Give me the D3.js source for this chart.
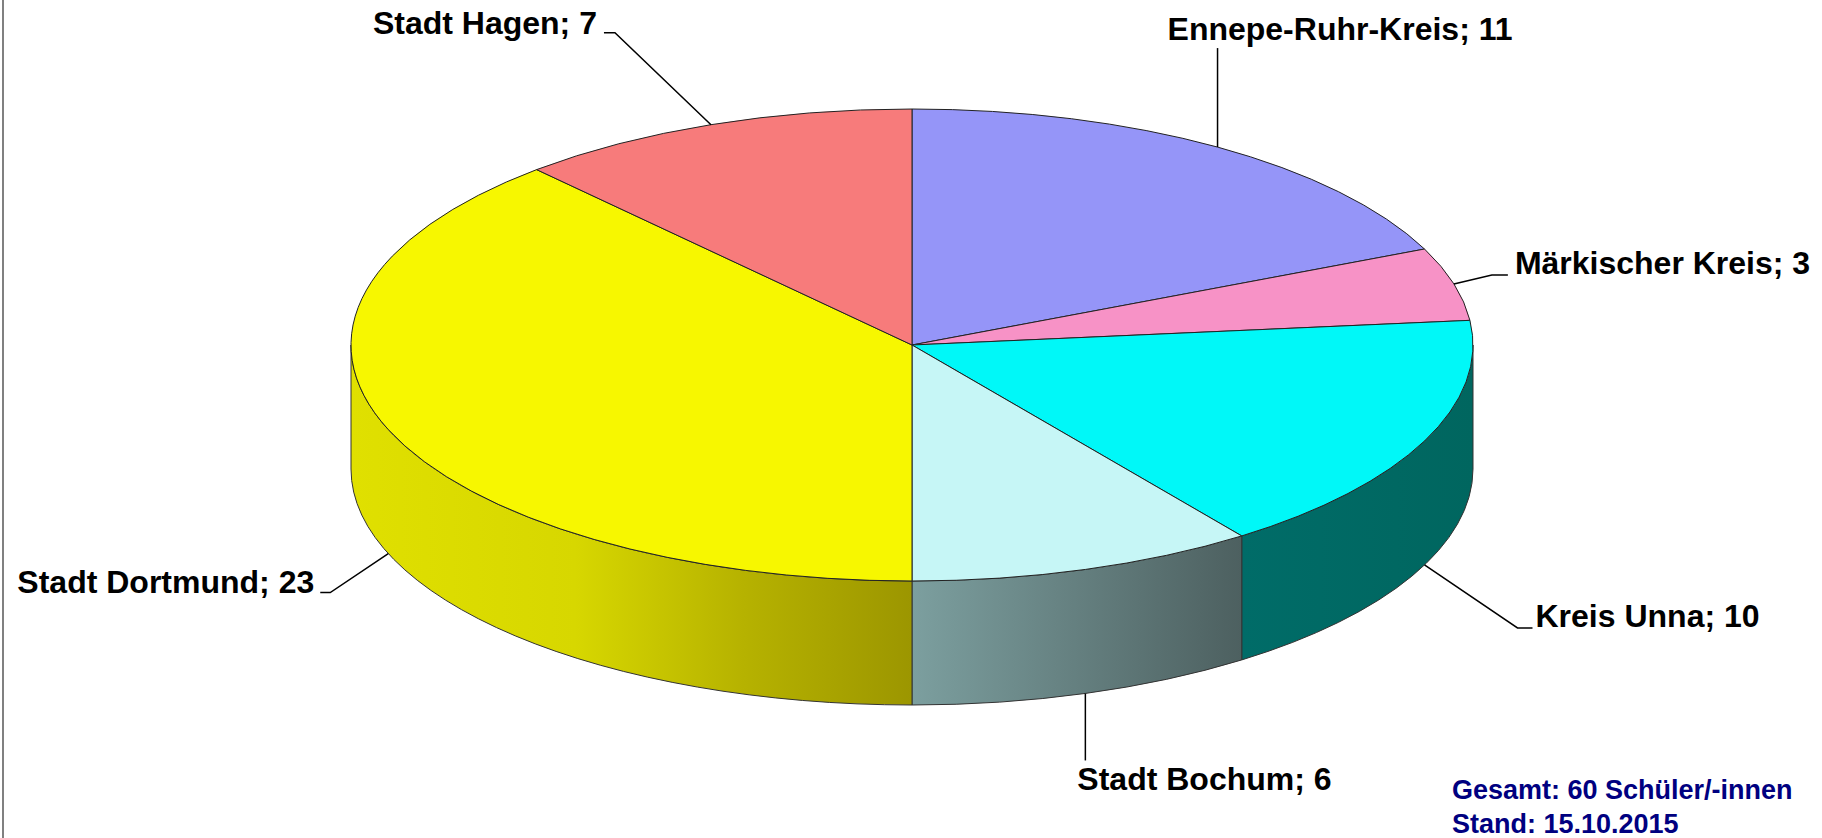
<!DOCTYPE html>
<html>
<head>
<meta charset="utf-8">
<script src="https://cdn.jsdelivr.net/npm/d3@7"></script>
<style>
  html, body { margin: 0; padding: 0; background: #fff; }
  svg { display: block; }
  text { font-family: "Liberation Sans", Arial, Helvetica, sans-serif; font-weight: bold; }
</style>
</head>
<body>
<svg id="chart" width="1822" height="838"></svg>
<script>
// ---- data ----
const categories = ["Ennepe-Ruhr-Kreis", "Märkischer Kreis", "Kreis Unna", "Stadt Bochum", "Stadt Dortmund", "Stadt Hagen"];
const values = [11, 3, 10, 6, 23, 7];
const topColors = ["#9595F8", "#F792C6", "#00F8F8", "#C6F6F6", "#F7F700", "#F77B7B"];
const sideColorsStart = ["#7070C0", "#C0709A", "#006C68", "#7C9F9F", "#E0E000", "#C06060"];
const sideColorsEnd   = ["#5858A0", "#A05880", "#00665F", "#4D6060", "#9C9600", "#A05050"];
const footnotes = ["Gesamt: 60 Schüler/-innen", "Stand: 15.10.2015"];

// ---- layout ----
const W = 1822, H = 838;
const cx = 912, cy = 345, rx = 561, ry = 236, depth = 124;
const labelLayout = [
  {rim: 0, ex: 0,   ey: -99, tx: 0,   lx: -50, ly: -8,  anchor: "start"},
  {rim: 0, ex: 38,  ey: -9,  tx: 16,  lx: 7,   ly: -1,  anchor: "start"},
  {rim: 1, ex: 93,  ey: 63,  tx: 15,  lx: 3,   ly: -1,  anchor: "start"},
  {rim: 1, ex: 0,   ey: 67,  tx: 0,   lx: -8,  ly: 30,  anchor: "start"},
  {rim: 1, ex: -58, ey: 39,  tx: -10, lx: -6,  ly: 0,   anchor: "end"},
  {rim: 0, ex: -96, ey: -92, tx: -11, lx: -7,  ly: 1,   anchor: "end"}
];

const svg = d3.select("#chart");
svg.append("rect").attr("x", 0).attr("y", 0).attr("width", W).attr("height", H).attr("fill", "#fff");
svg.append("line").attr("x1", 3).attr("x2", 3).attr("y1", 0).attr("y2", H)
  .attr("stroke", "#808080").attr("stroke-width", 2);

const data = categories.map((c, i) => ({name: c, value: values[i], i}));
const pie = d3.pie().sort(null).value(d => d.value).startAngle(0).endAngle(2 * Math.PI);
const arcs = pie(data);

const px = a => cx + rx * Math.sin(a);
const py = a => cy - ry * Math.cos(a);

const defs = svg.append("defs");

// sides
const sideG = svg.append("g");
arcs.forEach(d => {
  const b0 = Math.max(d.startAngle, Math.PI / 2);
  const b1 = Math.min(d.endAngle, 3 * Math.PI / 2);
  if (b1 <= b0) return;
  const i = d.data.i;
  const x0 = px(b0), x1 = px(b1);
  const gid = "side" + i;
  const g = defs.append("linearGradient").attr("id", gid)
    .attr("gradientUnits", "userSpaceOnUse")
    .attr("x1", Math.min(x0, x1)).attr("x2", Math.max(x0, x1)).attr("y1", 0).attr("y2", 0);
  if (i === 4) {
    g.append("stop").attr("offset", "0%").attr("stop-color", "#E0E000");
    g.append("stop").attr("offset", "40%").attr("stop-color", "#D7D700");
    g.append("stop").attr("offset", "70%").attr("stop-color", "#B6B200");
    g.append("stop").attr("offset", "100%").attr("stop-color", sideColorsEnd[i]);
  } else {
    g.append("stop").attr("offset", "0%").attr("stop-color", sideColorsStart[i]);
    g.append("stop").attr("offset", "100%").attr("stop-color", sideColorsEnd[i]);
  }
  const path = `M${px(b0)},${py(b0)} A${rx},${ry} 0 0 1 ${px(b1)},${py(b1)} L${px(b1)},${py(b1) + depth} A${rx},${ry} 0 0 0 ${px(b0)},${py(b0) + depth} Z`;
  sideG.append("path").attr("d", path).attr("fill", `url(#${gid})`)
    .attr("stroke", "#333").attr("stroke-width", 1).attr("stroke-linejoin", "round");
});

// tops
const topG = svg.append("g");
arcs.forEach(d => {
  const a0 = d.startAngle, a1 = d.endAngle;
  const large = (a1 - a0) > Math.PI ? 1 : 0;
  const path = `M${cx},${cy} L${px(a0)},${py(a0)} A${rx},${ry} 0 ${large} 1 ${px(a1)},${py(a1)} Z`;
  topG.append("path").attr("d", path).attr("fill", topColors[d.data.i])
    .attr("stroke", "#222").attr("stroke-width", 1).attr("stroke-linejoin", "round");
});

// labels with leader lines
const labG = svg.append("g");
arcs.forEach(d => {
  const i = d.data.i;
  const L = labelLayout[i];
  const m = (d.startAngle + d.endAngle) / 2;
  const ax = px(m), ay = py(m) + (L.rim ? depth : 0);
  const ex = ax + L.ex, ey = ay + L.ey;
  const tx = ex + L.tx, ty = ey;
  labG.append("polyline")
    .attr("points", `${ax},${ay} ${ex},${ey} ${tx},${ty}`)
    .attr("fill", "none").attr("stroke", "#000").attr("stroke-width", 1.5);
  labG.append("text")
    .attr("x", tx + L.lx).attr("y", ty + L.ly)
    .attr("text-anchor", L.anchor)
    .attr("font-size", 32).attr("fill", "#000")
    .text(`${d.data.name}; ${d.data.value}`);
});

// footnotes
footnotes.forEach((t, k) => {
  svg.append("text").attr("x", 1452).attr("y", 799 + k * 34)
    .attr("font-size", 27).attr("fill", "#000080").text(t);
});
</script>
</body>
</html>
